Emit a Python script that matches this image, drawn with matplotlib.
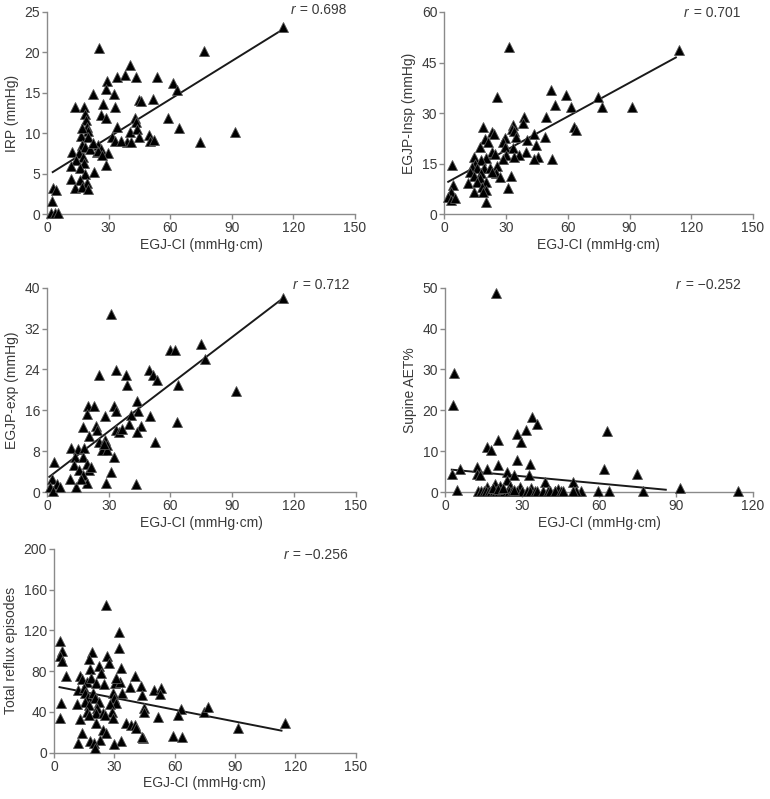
import matplotlib
matplotlib.use("Agg")
import matplotlib.pyplot as plt

plt.rcParams['font.family'] = ['Liberation Sans', 'DejaVu Sans']

# ---------------- data ----------------
# Panel A: IRP vs EGJ-CI
irp_x = [115, 25.5, 76.7, 40.2, 29.4, 34, 38, 43.4, 53.7, 61.6, 63.2, 28.8, 22.3, 32.7, 45, 46, 51.4,
         13.7, 17.9, 27.3, 33.3, 18.4, 26.2, 28.6, 19, 42.8, 43.3, 58.9, 34.3, 19.4, 20, 40.2, 43.9,
         64.1, 91.7, 16.6, 19.8, 31.7, 33.2, 45, 49.6, 50, 52.3, 39, 41, 74.6, 16.9, 18.5, 24.7, 26.3,
         24.2, 29.9, 12, 15.6, 17.4, 14.1, 18.2, 28.8, 11.9, 15.9, 18.7, 23.1, 11.6, 16.1, 19.7, 13.7,
         17, 20.1, 3.1, 4.4, 2.3, 1.8, 3.9, 5.5, 17, 21, 25, 27, 22.5, 36]
irp_y = [23.1, 20.6, 20.2, 18.4, 16.5, 17, 17.2, 16.9, 16.9, 16.2, 15.4, 15.5, 14.9, 14.8, 14.1, 14,
         14.3, 13.2, 13.2, 13.6, 13.2, 12.4, 12.2, 11.9, 11.6, 11.9, 11.4, 11.9, 10.8, 10.8, 10.3,
         10.2, 10.5, 10.6, 10.1, 9.7, 9.5, 9.5, 9.1, 9.6, 9.8, 9.1, 9.2, 8.9, 8.9, 8.9, 8.6, 8.3, 8.5,
         8.1, 7.7, 7.5, 7.7, 7.5, 7.1, 6.7, 6.3, 6.1, 5.9, 5.7, 5.0, 5.2, 4.4, 4.2, 3.8, 3.2, 3.4, 3.1,
         3.2, 3.0, 1.6, 0.2, 0.2, 0.1, 10.6, 8.0, 7.8, 7.3, 8.8, 9.0]
irp_fit_x = [2.8, 113.3]
irp_fit_y = [5.2, 22.6]
irp_r = "0.698"

# Panel B: EGJP-Insp vs EGJ-CI
insp_x = [114, 31.2, 25.4, 51.8, 59.1, 53.6, 61.5, 74.6, 76.5, 91.1, 63.1, 63.8, 49.5, 38.8, 38, 33.6,
          32.8, 33.9, 18.9, 23, 24, 43.7, 49, 35, 19.9, 29.4, 21, 28.6, 40.1, 17.3, 44.5, 29.6, 33.3,
          39.9, 23, 24.6, 36.4, 30, 45.3, 33.8, 52.4, 43.7, 20.5, 28.3, 14.6, 18, 15, 25.7, 3.7, 13.4,
          15.8, 19.1, 22.2, 12.3, 17.6, 25, 27.3, 32.2, 14.6, 17.3, 20.5, 11.6, 16, 18.1, 4.1, 30.9,
          20.2, 14.6, 3.1, 1.6, 3.2, 5.3, 20.1, 18.6, 23]
insp_y = [48.7, 49.5, 34.7, 36.9, 35.5, 32.4, 31.8, 34.7, 31.8, 31.8, 25.9, 24.9, 28.8, 28.8, 27, 26.6,
          25.4, 24.6, 25.9, 24.4, 23.7, 23.9, 22.9, 22.9, 22.4, 22.6, 21.4, 21.4, 21.9, 20, 20.5, 20,
          19.5, 18.5, 18.5, 17.8, 17.5, 17.5, 17, 17, 16.5, 16.5, 16.8, 16.5, 17, 16, 15, 14.3, 14.6,
          14.1, 13.6, 13.6, 13.6, 12.6, 12.1, 12.1, 11.1, 11.3, 11.3, 10.6, 9.6, 9.1, 9.6, 8.2, 8.7,
          7.7, 7.2, 6.7, 6.7, 5.2, 4.2, 4.7, 3.7, 6.7, 12.6]
insp_fit_x = [1.9, 112.5]
insp_fit_y = [9.6, 46.5]
insp_r = "0.701"

# Panel C: EGJP-exp vs EGJ-CI
exp_x = [114.9, 31.1, 59.7, 62, 74.9, 77, 91.6, 63.8, 63.3, 25.4, 33.5, 38.2, 38.7, 49.7, 51.6, 53.6,
         19.9, 22.7, 19.6, 32.4, 33.4, 43.7, 44.2, 50, 28.3, 40.6, 40, 17.5, 23.6, 24.3, 33.6, 35.1,
         36.4, 45.6, 43.5, 20.4, 52.6, 25.4, 28.3, 29.3, 26.6, 29.2, 11.5, 15.2, 18.1, 13.6, 17.5,
         32.5, 3.6, 13.1, 19.3, 20.5, 15.5, 17.6, 11.2, 31.1, 2.3, 4.7, 19.6, 28.6, 43.2, 14.1, 1.5,
         3.1, 6.3, 21.5, 16.5, 27.5]
exp_y = [38, 34.9, 27.9, 27.9, 28.9, 26, 19.8, 21, 13.8, 22.9, 23.9, 23, 20.9, 23.9, 23, 22, 16.9,
         16.9, 15.2, 16.9, 15.9, 17.8, 15.9, 14.9, 14.9, 15, 13.4, 12.8, 12.9, 12.1, 12.1, 11.8, 12.3,
         12.9, 11.8, 11, 9.8, 9.8, 10.2, 9.2, 8.2, 8.2, 8.7, 8.5, 8.7, 6.8, 6.9, 6.8, 5.9, 5.4, 5.6,
         4.3, 4.3, 3.3, 2.6, 3.9, 2.6, 1.6, 1.8, 1.8, 1.6, 1.0, 1.0, 0.3, 1.0, 5.0, 2.5, 9.5]
exp_fit_x = [1.1, 113.9]
exp_fit_y = [3.0, 37.7]
exp_r = "0.712"

# Panel D: Supine AET% vs EGJ-CI
sup_x = [19.8, 3.6, 3.0, 33.9, 35.9, 31.5, 27.9, 29.4, 20.5, 16.2, 17.9, 63, 62.1, 74.6, 27.9, 33.1,
         20.7, 5.8, 12.6, 16.2, 2.7, 12.3, 13.6, 24, 26.9, 32.6, 49.9, 38.9, 24.2, 19.5, 4.5, 91.4,
         114.1, 77.2, 63.7, 59.7, 52.9, 51.2, 49.7, 42.9, 44.1, 16.2, 21.4, 25.3, 29.2, 33.3,
         13, 14, 15, 16, 17, 18, 19, 20, 21, 22, 23, 25, 26, 28, 30, 32, 33, 35, 36, 38, 40, 41, 43,
         45, 46, 18.5, 20.5, 22.5, 27]
sup_y = [48.8, 29.1, 21.3, 18.4, 16.6, 15.3, 14.3, 12.3, 12.7, 11.1, 10.4, 15, 5.7, 4.5, 7.8, 6.8,
         6.6, 5.7, 6.1, 5.7, 4.5, 4.5, 4.1, 4.9, 4.1, 4.1, 2.5, 2.5, 2.9, 2.0, 0.6, 1.0, 0.2, 0.2,
         0.2, 0.2, 0.2, 0.2, 0.2, 0.2, 0.8, 1.2, 1.6, 1.4, 1.2, 1.0,
         0.2, 0.2, 0.2, 0.2, 0.2, 0.2, 0.2, 0.2, 0.2, 0.2, 0.2, 0.2, 0.2, 0.2, 0.2, 0.2, 0.2, 0.2,
         0.2, 0.2, 0.2, 0.2, 0.2, 0.2, 0.2, 1.0, 0.8, 1.0, 0.6]
sup_fit_x = [2.6, 86]
sup_fit_y = [5.5, 0.6]
sup_r = "\u22120.252"

# Panel E: Total reflux episodes vs EGJ-CI
tre_x = [25.7, 32.3, 32.3, 2.8, 4, 2.8, 4.1, 6.1, 3.6, 2.8, 18.7, 17.4, 26.3, 27.3, 22.4, 23.5, 17.8,
         12.8, 13.9, 16.6, 18.6, 21, 24.7, 30.3, 33, 33.3, 31, 40.1, 37.6, 43.4, 34, 29.4, 49.8, 53.2,
         52.6, 43.9, 11.9, 14.9, 15.3, 17, 19.4, 20.2, 15.4, 22.4, 29.9, 30.7, 27.7, 11.6, 17.4, 21.4,
         44.6, 45, 63, 61.7, 74.6, 76.6, 51.7, 16.6, 20.7, 24.4, 29, 17.4, 25.4, 29.4, 36, 38.5, 40.1,
         40.6, 21.1, 24.4, 12.8, 114.8, 91.5, 44.3, 43.8, 59.2, 63.8, 25.7, 14.1, 22.7, 33.5, 11.9,
         17.7, 29.7, 19.9, 20.2]
tre_y = [145.2, 118, 102.6, 109.2, 99.3, 94.4, 89.5, 75.4, 48.5, 33.8, 98.4, 91.8, 95.1, 87.9, 85.2,
         78, 82, 75.4, 72.1, 69.8, 73.1, 68.2, 67.5, 68.2, 68.9, 82.9, 73.1, 75.4, 64.9, 65.6, 58.4,
         58.4, 61.6, 63.3, 57.7, 56.7, 61.6, 63.3, 58.4, 55.1, 58.4, 53.4, 50.2, 50.2, 53.4, 48.5,
         47.5, 47.9, 46.9, 43.6, 44.3, 40.3, 42.6, 37.1, 40.3, 45.2, 34.8, 40.3, 39.3, 39.3, 40.3,
         37.1, 37.1, 33.8, 29.5, 27.2, 27.2, 23.9, 28.9, 22.3, 32.8, 29.5, 23.9, 14.1, 15.7, 16.7,
         15.1, 19, 19, 12.5, 11.8, 9.2, 11.8, 8.5, 9.2, 4.3]
tre_fit_x = [2.8, 113.1]
tre_fit_y = [64.3, 21.6]
tre_r = "\u22120.256"

x_label = "EGJ-CI (mmHg\u00b7cm)"

panels = [
    # x, y, fit_x, fit_y, r, ylabel, xmax, xstep, ymax, ystep, rect, rpos
    (irp_x, irp_y, irp_fit_x, irp_fit_y, irp_r, "IRP (mmHg)", 150, 30, 25, 5,
     [0.061, 0.732, 0.400, 0.253], (0.79, 1.01)),
    (insp_x, insp_y, insp_fit_x, insp_fit_y, insp_r, "EGJP-Insp (mmHg)", 150, 30, 60, 15,
     [0.577, 0.732, 0.401, 0.253], (0.775, 0.995)),
    (exp_x, exp_y, exp_fit_x, exp_fit_y, exp_r, "EGJP-exp (mmHg)", 150, 30, 40, 8,
     [0.061, 0.384, 0.401, 0.256], (0.795, 1.015)),
    (sup_x, sup_y, sup_fit_x, sup_fit_y, sup_r, "Supine AET%", 120, 30, 50, 10,
     [0.578, 0.384, 0.400, 0.256], (0.75, 1.015)),
    (tre_x, tre_y, tre_fit_x, tre_fit_y, tre_r, "Total reflux episodes", 150, 30, 200, 40,
     [0.070, 0.058, 0.392, 0.255], (0.76, 0.97)),
]

text_col = "#3a3a3a"
spine_col = "#8a8a8a"

fig = plt.figure(figsize=(7.70, 7.99), dpi=100)

for (xs, ys, fx, fy, rtxt, ylab, xmax, xstep, ymax, ystep, rect, rpos) in panels:
    ax = fig.add_axes(rect)
    ax.plot(fx, fy, color="#1a1a1a", lw=1.4, zorder=2)
    ax.plot(xs, ys, linestyle="none", marker="^", ms=7.5, color="black",
            markeredgecolor="#555555", markeredgewidth=0.6, zorder=3, clip_on=False)
    ax.set_xlim(0, xmax)
    ax.set_ylim(0, ymax)
    ax.set_xticks(list(range(0, xmax + 1, xstep)))
    ax.set_yticks(list(range(0, ymax + 1, ystep)))
    for s in ("top", "right"):
        ax.spines[s].set_visible(False)
    for s in ("left", "bottom"):
        ax.spines[s].set_color(spine_col)
        ax.spines[s].set_linewidth(1.0)
    ax.tick_params(axis="both", direction="out", length=3.5, width=1.0, color=spine_col,
                   labelsize=10, labelcolor=text_col, pad=1.5)
    ax.set_xlabel(x_label, fontsize=10, color=text_col, labelpad=2)
    ax.set_ylabel(ylab, fontsize=10, color=text_col, labelpad=4)
    ax.text(rpos[0], rpos[1], "r", style="italic", transform=ax.transAxes,
            fontsize=10, color=text_col, ha="left", va="center")
    ax.text(rpos[0] + 0.02, rpos[1], " = " + rtxt, transform=ax.transAxes,
            fontsize=10, color=text_col, ha="left", va="center")

fig.savefig("out.png", dpi=100)
